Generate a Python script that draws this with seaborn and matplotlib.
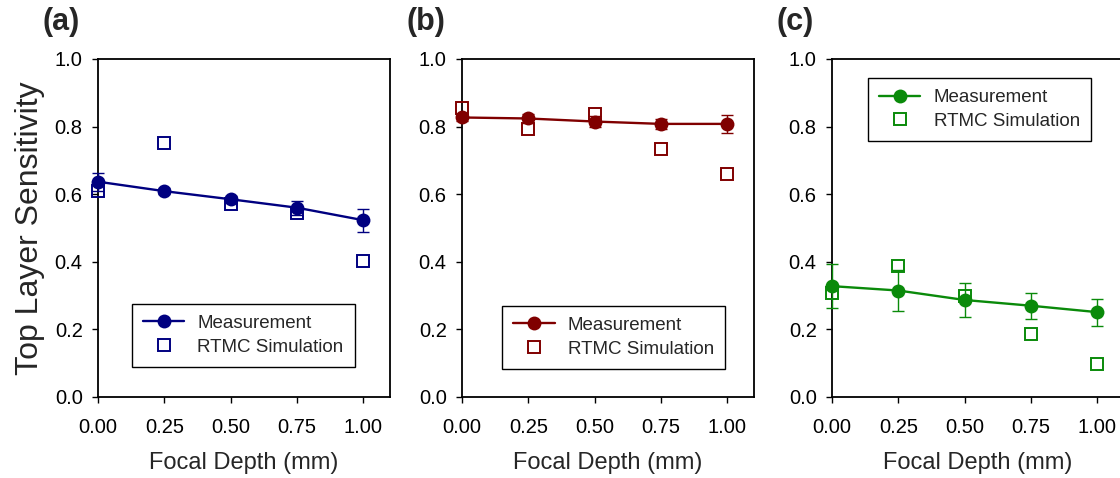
import matplotlib
matplotlib.use("Agg")
import matplotlib.pyplot as plt
import seaborn as sns
import numpy as np
import pandas as pd

sns.set_theme(style="ticks")
plt.rcParams["font.family"] = ["Liberation Sans", "DejaVu Sans"]

# Focal depths (mm)
depth = [0.00, 0.25, 0.50, 0.75, 1.00]

# Panel (a)
meas_a = [0.637, 0.609, 0.585, 0.560, 0.523]
err_a = [0.027, 0.008, 0.010, 0.021, 0.034]
sim_a = [0.609, 0.752, 0.571, 0.543, 0.403]

# Panel (b)
meas_b = [0.827, 0.824, 0.815, 0.808, 0.808]
err_b = [0.010, 0.012, 0.015, 0.015, 0.026]
sim_b = [0.854, 0.794, 0.837, 0.734, 0.659]

# Panel (c)
meas_c = [0.328, 0.315, 0.287, 0.270, 0.251]
err_c = [0.065, 0.060, 0.049, 0.038, 0.040]
sim_c = [0.307, 0.388, 0.300, 0.186, 0.097]

panel_labels = ["(a)", "(b)", "(c)"]
colors = ["#000080", "#800000", "#0A8A0A"]
x_ticks = [0.00, 0.25, 0.50, 0.75, 1.00]
x_ticklabels = ["0.00", "0.25", "0.50", "0.75", "1.00"]
y_ticks = [0.0, 0.2, 0.4, 0.6, 0.8, 1.0]
y_ticklabels = ["0.0", "0.2", "0.4", "0.6", "0.8", "1.0"]

W, H = 1120, 478
fig = plt.figure(figsize=(W / 100, H / 100), dpi=100)

lefts_px = [98, 462, 832]
ax_w, ax_top, ax_bot = 292, 59, 397
legend_specs = [
    dict(loc="lower left", bbox_to_anchor=(0.116, 0.089)),
    dict(loc="lower left", bbox_to_anchor=(0.137, 0.083)),
    dict(loc="upper left", bbox_to_anchor=(0.123, 0.944)),
]

panels = [(meas_a, err_a, sim_a), (meas_b, err_b, sim_b), (meas_c, err_c, sim_c)]

for i, (meas, err, sim) in enumerate(panels):
    left = lefts_px[i] / W
    bottom = (H - ax_bot) / H
    ax = fig.add_axes([left, bottom, ax_w / W, (ax_bot - ax_top) / H])
    c = colors[i]
    df = pd.DataFrame({"depth": depth, "meas": meas, "err": err, "sim": sim})

    eb = ax.errorbar(df["depth"], df["meas"], yerr=df["err"], fmt="none",
                     ecolor=c, elinewidth=1.0, capsize=4, capthick=1.0, zorder=2)
    for art in eb.lines[1] + eb.lines[2]:
        art.set_clip_on(False)
    sns.lineplot(data=df, x="depth", y="sim", ax=ax, linestyle="none",
                 marker="s", markersize=8.5, markerfacecolor="none",
                 markeredgecolor=c, markeredgewidth=1.4, color=c,
                 label="RTMC Simulation", zorder=3, clip_on=False)
    sns.lineplot(data=df, x="depth", y="meas", ax=ax, color=c, linewidth=1.7,
                 marker="o", markersize=10, markeredgewidth=0,
                 label="Measurement", zorder=4, clip_on=False)

    ax.set_xlim(0, 1.1)
    ax.set_ylim(0, 1.0)
    ax.set_xticks(x_ticks)
    ax.set_xticklabels(x_ticklabels)
    ax.set_yticks(y_ticks)
    ax.set_yticklabels(y_ticklabels)
    ax.tick_params(axis="both", direction="out", length=4, width=1.0,
                   labelsize=14.5, colors="black")
    ax.tick_params(axis="x", pad=11)
    ax.tick_params(axis="y", pad=7)
    for sp in ax.spines.values():
        sp.set_visible(True)
        sp.set_linewidth(1.3)
        sp.set_color("black")
        sp.set_zorder(1)

    ax.set_xlabel("Focal Depth (mm)", fontsize=17, labelpad=11)
    if i == 0:
        ax.set_ylabel("Top Layer Sensitivity", fontsize=23, labelpad=7)
    else:
        ax.set_ylabel("")

    handles, labels = ax.get_legend_handles_labels()
    order = [labels.index("Measurement"), labels.index("RTMC Simulation")]
    leg = ax.legend([handles[k] for k in order], [labels[k] for k in order],
                    fontsize=13.5, frameon=True, fancybox=False, framealpha=1,
                    edgecolor="black", borderaxespad=0, handlelength=2.2,
                    handletextpad=0.7, borderpad=0.6, labelspacing=0.35,
                    **legend_specs[i])
    leg.get_frame().set_linewidth(1.0)
    leg.set_zorder(5)

    fig.text((lefts_px[i] - 55) / W, 1 - 22 / H, panel_labels[i],
             fontsize=22, fontweight="bold", va="center", ha="left")

fig.savefig("out.png", dpi=100)
